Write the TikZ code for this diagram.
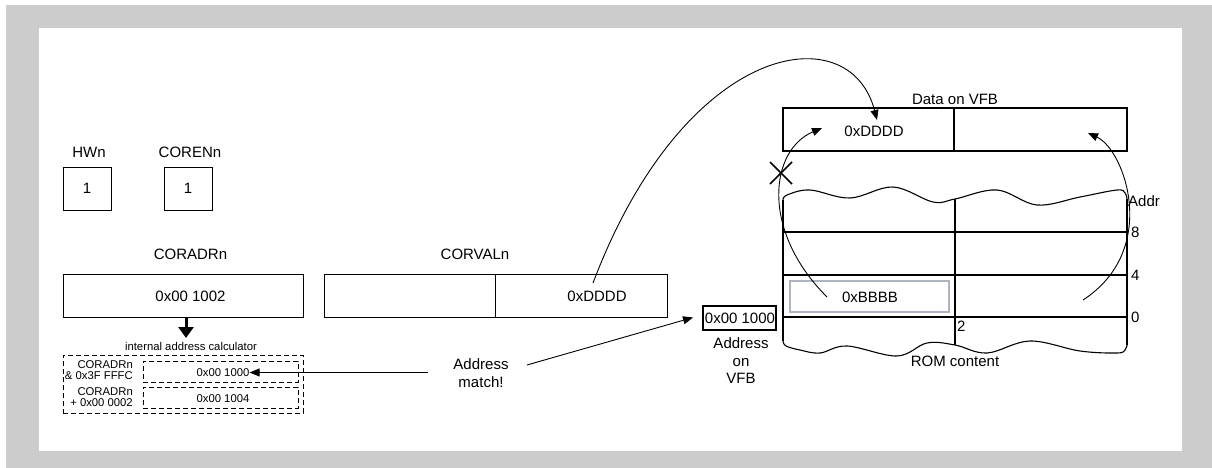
\documentclass[tikz,border=0pt]{standalone}
\usepackage{fontspec}
\setmainfont{Liberation Sans}
\usetikzlibrary{arrows.meta}
\definecolor{framegray}{HTML}{CCCCCC}
\definecolor{boxgray}{HTML}{AEB5C0}
\begin{document}
\begin{tikzpicture}[x=1pt,y=-1pt,
  lbl/.style={inner sep=0pt,font=\fontsize{15}{17.5}\selectfont},
  sm/.style={inner sep=0pt,font=\fontsize{11.3}{10.8}\selectfont},
  box/.style={draw,line width=1pt,inner sep=0pt},
  thickbox/.style={draw,line width=2.5pt,inner sep=0pt},
  dbox/.style={draw,line width=1pt,dash pattern=on 5pt off 3pt,inner sep=0pt},
  arr/.style={line width=0.9pt,-{Triangle[length=10pt,width=8pt]}},
  rom/.style={line width=1.1pt}]
\useasboundingbox (0,0) rectangle (1212,468);
\fill[framegray] (6,5) rectangle (1212,468);
\fill[white] (39,28) rectangle (1182,451);

% HWn / CORENn
\node[lbl] (hwl) at (89,152) {HWn};
\node[box,minimum width=48pt,minimum height=43pt] (hw) at (87,188.5) {};
\node[lbl] at (hw.center) {1};
\node[lbl] (corl) at (190,152) {CORENn};
\node[box,minimum width=48pt,minimum height=43pt] (coren) at (188,188.5) {};
\node[lbl] at (coren.center) {1};

% CORADRn
\node[lbl] (cadl) at (190.5,254) {CORADRn};
\node[box,minimum width=240pt,minimum height=43pt] (cad) at (183,295.5) {};
\node[lbl] (cadv) at (190.5,296) {0x00 1002};

% CORVALn
\node[lbl] (cvl) at (475,254) {CORVALn};
\node[box,minimum width=171pt,minimum height=43pt] (cvA) at (409.5,295.5) {};
\node[box,minimum width=172pt,minimum height=43pt] (cvB) at (581,295.5) {};
\node[lbl] (cvv) at (597,296) {0xDDDD};

% down arrow
\coordinate (dtop) at (186,317);
\coordinate (dtip) at (186,338);
\draw[line width=3pt,-{Triangle[length=11pt,width=15pt]}] (dtop) -- (dtip);
\node[sm] (ical) at (191,346) {internal address calculator};

% dashed calculator
\node[dbox,minimum width=240pt,minimum height=58pt] (calc) at (183,384) {};
\node[dbox,minimum width=155pt,minimum height=21pt] (c1) at (220.5,371.5) {};
\node[dbox,minimum width=155pt,minimum height=21pt] (c2) at (220.5,397.5) {};
\node[sm] (c1v) at (223,372.5) {0x00 1000};
\node[sm] (c2v) at (223,398.5) {0x00 1004};
\node[sm,align=right,anchor=east] (c1l) at (133,370.5) {CORADRn\\\& 0x3F FFFC};
\node[sm,align=right,anchor=east] (c2l) at (133,397.5) {CORADRn\\+ 0x00 0002};

% Address match
\node[lbl,align=center] (am) at (481,373) {Address\\match!};
\coordinate (amL) at (428,372.5);
\coordinate (amR) at (527,365);
\draw[arr] (amL) -- (c1v.east);

% Address on VFB
\node[thickbox,minimum width=73pt,minimum height=24pt] (avfb) at (739.5,318) {};
\node[lbl] (avfbv) at (740,318) {0x00 1000};
\node[lbl,align=center] (avfbl) at (741,361) {Address\\on\\VFB};
\coordinate (avtip) at (693,317.5);
\draw[arr] (amR) -- (avtip);

% Data on VFB
\node[lbl] (dvl) at (955,99) {Data on VFB};
\node[thickbox,minimum width=171pt,minimum height=43pt] (dA) at (868.5,129.5) {};
\node[thickbox,minimum width=173pt,minimum height=43pt] (dB) at (1040.5,129.5) {};
\node[lbl] (dAv) at (874,131) {0xDDDD};

% ROM content
\draw[rom] plot[smooth,tension=0.6] coordinates {(783,200) (787,195) (810,190) (850,198) (893,187) (933,202) (955,199) (997,190) (1037,205) (1080,197) (1117,190) (1125,193) (1127,199)};
\draw[rom] plot[smooth,tension=0.6] coordinates {(783,341) (786,346) (800,350) (820,353) (847,346) (897,356) (927,343) (955,345) (987,353) (1030,341) (1080,351) (1117,353) (1125,350) (1127,345)};
\draw[rom] (783,200) -- (783,341);
\draw[rom] (1127,199) -- (1127,345);
\draw[rom] (955,199) -- (955,345);
\draw[rom] (783,232) -- (1127,232);
\draw[rom] (783,275) -- (1127,275);
\draw[rom] (783,317) -- (1127,317);
\node[lbl,anchor=west] (addr) at (1128,201) {Addr};
\node[lbl,anchor=west] (a8) at (1131,232) {8};
\node[lbl,anchor=west] (a4) at (1131,275) {4};
\node[lbl,anchor=west] (a0) at (1131,317) {0};
\node[lbl,anchor=west] (a2) at (957,326) {2};
\node[lbl] (romc) at (955,361) {ROM content};
\node[draw=boxgray,line width=1.6pt,minimum width=159pt,minimum height=31pt,inner sep=0pt] (bb) at (869.5,296.5) {};
\node[lbl] (bbv) at (870,297) {0xBBBB};

% curves
\coordinate (s1) at (593,283);
\coordinate (t1) at (877,120);
\draw[arr] (s1) .. controls (685,40) and (850,15) .. (t1);
\coordinate (s2) at (827,297);
\coordinate (t2) at (822,128);
\draw[arr] (s2) .. controls (760,230) and (770,150) .. (t2);
\coordinate (s3) at (1083,300);
\coordinate (t3) at (1088,133);
\draw[arr] (s3) .. controls (1160,250) and (1125,150) .. (t3);

% X mark
\coordinate (xm) at (781,173);
\draw[line width=1.7pt] ([shift={(-11,-11)}]xm) -- ([shift={(11,11)}]xm);
\draw[line width=1.7pt] ([shift={(-11,11)}]xm) -- ([shift={(11,-11)}]xm);
\end{tikzpicture}
\end{document}
